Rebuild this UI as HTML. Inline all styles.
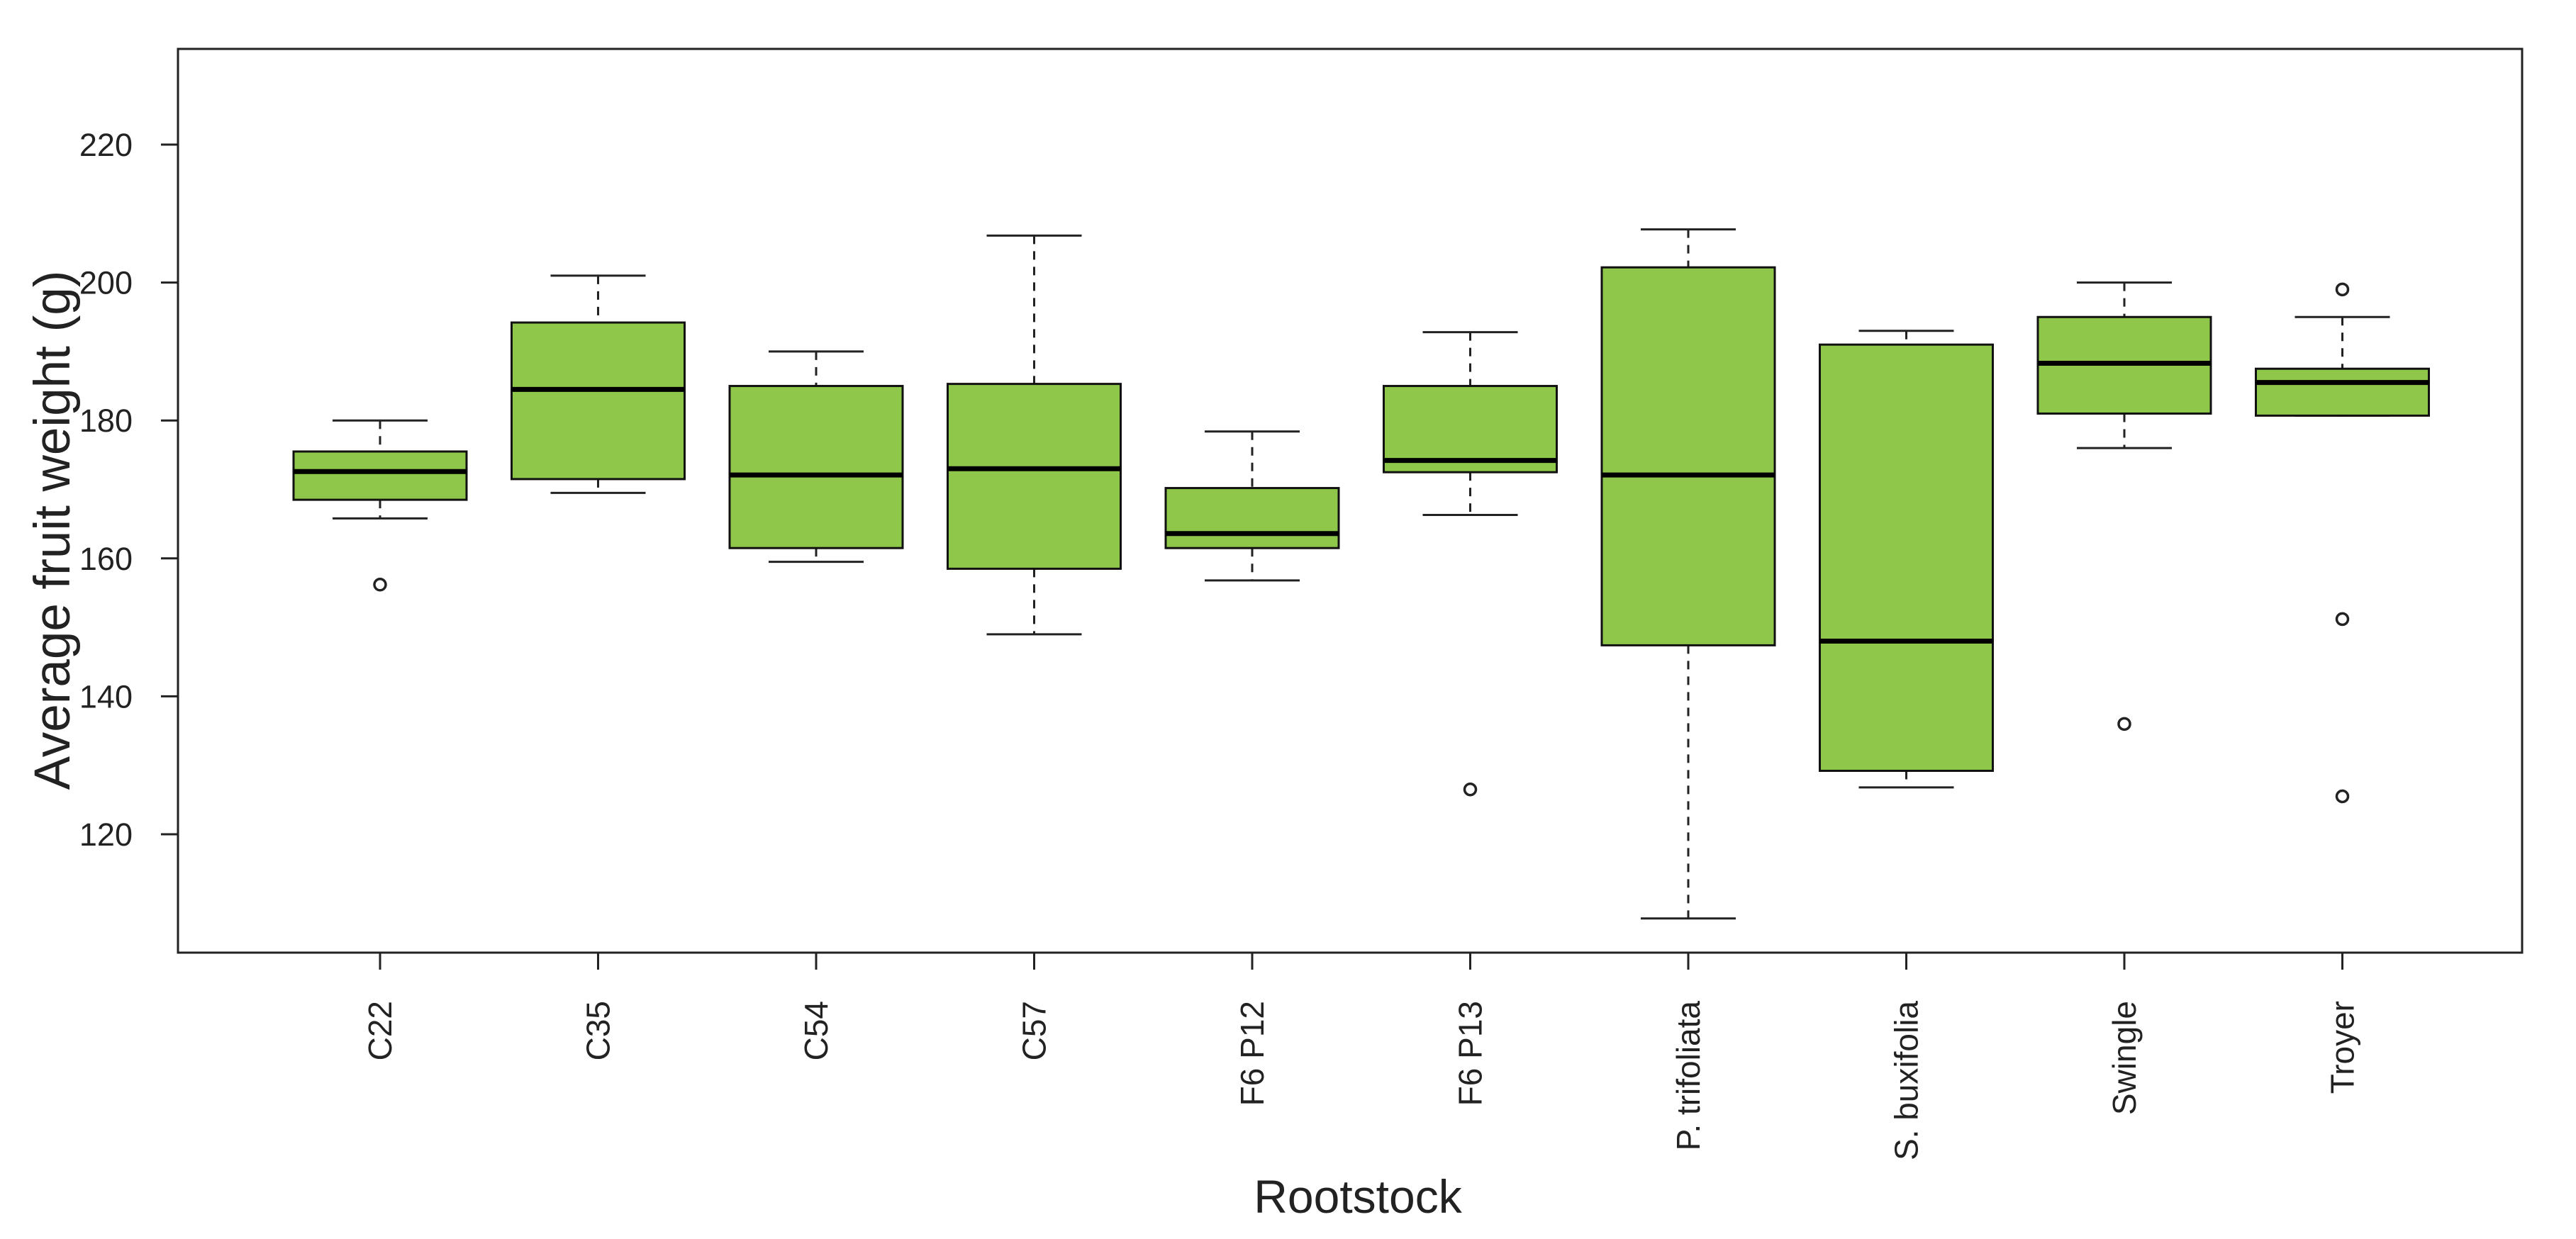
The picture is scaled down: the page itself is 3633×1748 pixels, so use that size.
<!DOCTYPE html>
<html><head><meta charset="utf-8"><style>
html,body{margin:0;padding:0;background:#fff}
svg{display:block}
text{font-family:"Liberation Sans",Arial,sans-serif;fill:#222}
</style></head><body>
<svg id="chart" width="3633" height="1748" viewBox="0 0 3633 1748" xmlns="http://www.w3.org/2000/svg">
<rect x="0" y="0" width="3633" height="1748" fill="#fff"/>
<g id="plot"></g>
</svg>
<script>
const categories = ["C22","C35","C54","C57","F6 P12","F6 P13","P. trifoliata","S. buxifolia","Swingle","Troyer"];
const whiskerHigh = [180, 201, 190, 206.8, 178.4, 192.8, 207.7, 193, 200, 195];
const q3Values = [175.5, 194.2, 185, 185.3, 170.2, 185, 202.2, 191, 195, 187.5];
const medians = [172.6, 184.5, 172.1, 173, 163.6, 174.2, 172.1, 148, 188.3, 185.5];
const q1Values = [168.5, 171.5, 161.5, 158.5, 161.5, 172.5, 147.4, 129.2, 181, 180.7];
const whiskerLow = [165.8, 169.5, 159.5, 149, 156.8, 166.3, 107.8, 126.8, 176, 180.7];
const outliers = [[156.2],[],[],[],[],[126.5],[],[],[136],[199,151.2,125.5]];
const yTicks = [120,140,160,180,200,220];

const NS="http://www.w3.org/2000/svg";
const g=document.getElementById('plot');
const L=251,R=3557,T=69,B=1344;
function yScale(v){return 1177-(v-120)*(1177-204)/100;}
function xScale(i){return 536+i*307.5;}
function mk(tag,attrs,parent){const e=document.createElementNS(NS,tag);for(const k in attrs)e.setAttribute(k,attrs[k]);(parent||g).appendChild(e);return e;}

const frame=mk('rect',{x:L,y:T,width:R-L,height:B-T,fill:'none',stroke:'#222','stroke-width':3});



yTicks.forEach(v=>{
  const y=yScale(v);
  const t=mk('line',{x1:L-24,x2:L,y1:y,y2:y,stroke:'#222','stroke-width':3});
  
  
  const tx=mk('text',{x:L-64,y:y+16,'text-anchor':'end','font-size':45});
  tx.textContent=v;
  
  
});

const bw=244, cw=134;
categories.forEach((c,i)=>{
  const x=xScale(i);
  const grp=mk('g',{});
  
  
  const yh=yScale(whiskerHigh[i]),y3=yScale(q3Values[i]),ym=yScale(medians[i]),y1=yScale(q1Values[i]),yl=yScale(whiskerLow[i]);
  mk('line',{x1:x,x2:x,y1:yh,y2:y3,stroke:'#222','stroke-width':3,'stroke-dasharray':'12,10'},grp);
  mk('line',{x1:x,x2:x,y1:y1,y2:yl,stroke:'#222','stroke-width':3,'stroke-dasharray':'12,10'},grp);
  mk('line',{x1:x-cw/2,x2:x+cw/2,y1:yh,y2:yh,stroke:'#222','stroke-width':3},grp);
  mk('line',{x1:x-cw/2,x2:x+cw/2,y1:yl,y2:yl,stroke:'#222','stroke-width':3},grp);
  mk('rect',{x:x-bw/2,y:y3,width:bw,height:Math.max(1,y1-y3),fill:'#8fc74a',stroke:'#111','stroke-width':3},grp);
  mk('line',{x1:x-bw/2,x2:x+bw/2,y1:ym,y2:ym,stroke:'#000','stroke-width':7},grp);
  outliers[i].forEach(o=>{
    const p=mk('circle',{cx:x,cy:yScale(o),r:8,fill:'none',stroke:'#222','stroke-width':3.5},grp);
    
    
  });
  const t=mk('line',{x1:x,x2:x,y1:B,y2:B+24,stroke:'#222','stroke-width':3});
  
  
  const tx=mk('text',{x:0,y:0,'text-anchor':'end','font-size':46,transform:'translate('+(x+16)+','+(B+68)+') rotate(-90)'});
  tx.textContent=c;
  
  
});

const xt=mk('text',{x:1915,y:1711,'text-anchor':'middle','font-size':66});
xt.textContent='Rootstock';


const yt=mk('text',{x:0,y:0,'text-anchor':'middle','font-size':71,transform:'translate(98,748) rotate(-90)'});
yt.textContent='Average fruit weight (g)';


</script>
</body></html>
